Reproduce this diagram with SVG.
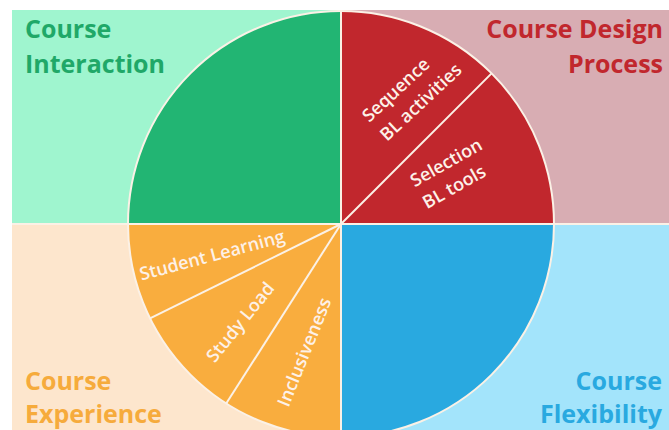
<svg xmlns="http://www.w3.org/2000/svg" width="669" height="430" viewBox="0 0 669 430">
<style>
.title{font-family:"Open Sans","Liberation Sans",sans-serif;font-weight:700;font-size:25px}
.seg{font-family:"Open Sans","Liberation Sans",sans-serif;font-weight:600;font-size:18px;fill:#fdf1e8}
.div{stroke:#fbf1e6;stroke-width:2;fill:none}
</style>
<rect width="669" height="430" fill="#ffffff"/>
<g id="interaction">
<rect x="12" y="10" width="329" height="214" fill="#9ff5cf"/>
<path d="M341,224 L128,224 A213,213 0 0 1 341,11 Z" fill="#22b573"/>
<text class="title" fill="#1fa868"><tspan x="25" y="38">Course</tspan><tspan x="25" y="73">Interaction</tspan></text>
</g>
<g id="design">
<rect x="341" y="10" width="328" height="214" fill="#d8adb3"/>
<path d="M341,224 L341,11 A213,213 0 0 1 554,224 Z" fill="#c1272d"/>
<text class="title" fill="#c1272d" text-anchor="end"><tspan x="663" y="38">Course Design</tspan><tspan x="663" y="73">Process</tspan></text>
</g>
<g id="experience">
<rect x="12" y="224" width="329" height="206" fill="#fde6cd"/>
<path d="M341,224 L341,437 A213,213 0 0 1 128,224 Z" fill="#f9ad3e"/>
<text class="title" fill="#f6ab3c"><tspan x="25" y="390">Course</tspan><tspan x="25" y="423">Experience</tspan></text>
</g>
<g id="flexibility">
<rect x="341" y="224" width="328" height="206" fill="#a3e4fb"/>
<path d="M341,224 L554,224 A213,213 0 0 1 341,437 Z" fill="#29a9e0"/>
<text class="title" fill="#29a9e0" text-anchor="end"><tspan x="662" y="390">Course</tspan><tspan x="662" y="423">Flexibility</tspan></text>
</g>
<g id="connectors">
<line class="div" x1="341" y1="10" x2="341" y2="430"/>
<line class="div" x1="12" y1="224" x2="669" y2="224"/>
<circle class="div" cx="341" cy="224" r="213" stroke-width="1.8"/>
<line class="div" x1="341" y1="224" x2="491.6" y2="73.4"/>
<line class="div" x1="341" y1="224" x2="150" y2="318.4"/>
<line class="div" x1="341" y1="224" x2="226.2" y2="403.5"/>
</g>
<g id="sequence" transform="translate(404.5,99.2) rotate(-43)">
<text class="seg"><tspan x="-42" y="-6.5">Sequence</tspan><tspan x="-42" y="19.5">BL activities</tspan></text>
</g>
<g id="selection" transform="translate(451.7,173.5) rotate(-29.5)">
<text class="seg"><tspan x="-39" y="-6">Selection</tspan><tspan x="-39" y="19">BL tools</tspan></text>
</g>
<g id="student-learning" transform="translate(212,255) rotate(-15)">
<text class="seg" text-anchor="middle" y="6.5">Student Learning</text>
</g>
<g id="study-load" transform="translate(240,322) rotate(-51)">
<text class="seg" text-anchor="middle" y="6.5">Study Load</text>
</g>
<g id="inclusiveness" transform="translate(304,352) rotate(-68)">
<text class="seg" text-anchor="middle" y="6.5">Inclusiveness</text>
</g>
</svg>
